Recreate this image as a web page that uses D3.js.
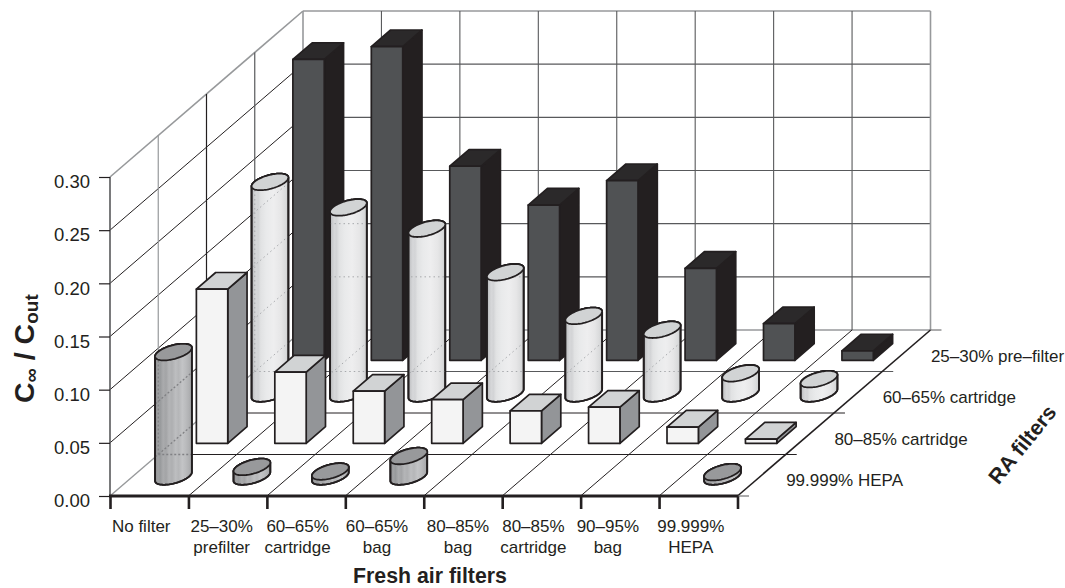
<!DOCTYPE html>
<html>
<head>
<meta charset="utf-8">
<script src="https://cdn.jsdelivr.net/npm/d3@7"></script>
<style>
  html, body { margin: 0; background: #fff; }
  svg { display: block; font-family: "Liberation Sans", Arial, sans-serif; fill: #231f20; }
</style>
</head>
<body>
<svg id="chart" width="1065" height="588"></svg>
<script>
// Fresh-air filter categories along the front axis
const freshAirLines = [
  ["No filter"], ["25–30%", "prefilter"], ["60–65%", "cartridge"], ["60–65%", "bag"],
  ["80–85%", "bag"], ["80–85%", "cartridge"], ["90–95%", "bag"], ["99.999%", "HEPA"]
];
// Return-air filter rows, nearest first
const raFilters = ["99.999% HEPA", "80–85% cartridge", "60–65% cartridge", "25–30% pre–filter"];
const raShapes = ["cylinder", "box", "cylinder", "box"];

// C∞ / Cout per row, one value per fresh-air filter
const hepaValues = [0.117, 0.009, 0.0047, 0.0193, null, null, null, 0.0041];
const cartridge80Values = [0.145, 0.067, 0.049, 0.041, 0.0304, 0.034, 0.0153, 0.004];
const cartridge60Values = [0.199, 0.175, 0.155, 0.114, 0.073, 0.06, 0.019, 0.0135];
const preFilterValues = [0.283, 0.295, 0.1825, 0.146, 0.169, 0.0865, 0.0344, 0.0089];
const yTicks = [0, 0.05, 0.10, 0.15, 0.20, 0.25, 0.30];

const rowValues = [hepaValues, cartridge80Values, cartridge60Values, preFilterValues];

// Oblique projection: depth shifts a point right and up by a fixed vector
const originX = 110, originY = 496, depthX = 193, depthY = 166;
const xScale = d3.scaleLinear().domain([0, 8]).range([originX, 737.5]);
const depthScale = d3.scaleLinear().domain([0, 4]).range([0, 1]);
const yScale = d3.scaleLinear().domain([0, 0.3]).range([originY, originY - 319]);

// col, row are grid units; v is the plotted value
function project(col, row, v = 0) {
  const d = depthScale(row);
  return [xScale(col) + depthX * d, yScale(v) - depthY * d];
}

const svg = d3.select("#chart");
const line = d3.line();
const defs = svg.append("defs");

function addGradient(id, stops) {
  const g = defs.append("linearGradient").attr("id", id)
    .attr("x1", 0).attr("x2", 1).attr("y1", 0).attr("y2", 0);
  stops.forEach(([o, c]) => g.append("stop").attr("offset", o).attr("stop-color", c));
}
addGradient("cylLight", [[0, "#b0b1b3"], [0.06, "#c9cacc"], [0.12, "#d6d7d9"], [0.18, "#d3d4d6"],
  [0.25, "#e1e2e3"], [0.4, "#e9eaeb"], [0.6, "#eeeeef"], [0.8, "#e6e6e7"], [0.92, "#dadbdc"], [1, "#cbcccd"]]);
addGradient("cylGrey", [[0, "#8f9092"], [0.08, "#a0a1a3"], [0.14, "#989a9c"], [0.22, "#aaabad"],
  [0.3, "#a3a4a6"], [0.38, "#b4b5b7"], [0.46, "#aeafb1"], [0.56, "#bdbec0"], [0.64, "#b5b6b8"],
  [0.74, "#c3c4c6"], [0.84, "#babbbd"], [0.92, "#b0b1b3"], [1, "#a2a3a5"]]);

const rowStyle = [
  { body: "url(#cylGrey)", top: "#98999b", printThrough: { color: "#808184", dash: "2 2", width: 1.3 } },
  { front: "#f4f4f4", top: "#d1d3d4", side: "#939598" },
  { body: "url(#cylLight)", top: "#d1d3d4", printThrough: { color: "#a7a9ac", dash: "1.5 3", width: 1 } },
  { front: "#505254", top: "#2b292a", side: "#231f20" }
];

/* ---------- walls and floor ---------- */
const grid = svg.append("g").attr("fill", "none");
const gridSegments = [];
function seg(a, b, stroke, width) { gridSegments.push({ a, b, stroke, width }); }

const BLACK = "#231f20", GREY = "#97999b", MID = "#58595b";

yTicks.forEach(t => {
  const isTop = t === 0.3, isFloor = t === 0;
  if (!isFloor) {
    seg(project(0, 0, t), project(0, 4, t), isTop ? GREY : BLACK, isTop ? 1.6 : 1);
    seg(project(0, 4, t), project(8, 4, t), isTop ? GREY : MID, isTop ? 1.6 : 1.2);
  }
});
seg(project(0, 4, 0), project(8, 4, 0), GREY, 1.6);
seg(project(0, 0, 0), project(0, 4, 0), GREY, 1.4);
seg(project(0, 0, 0), project(0, 0, 0.3), MID, 1.6);
seg(project(0, 4, 0), project(0, 4, 0.3), GREY, 1.6);
d3.range(1, 4).forEach(r => {
  seg(project(0, r, 0), project(0, r, 0.3), r === 3 ? MID : (r === 2 ? BLACK : GREY), 1.2);
  seg(project(0, r, 0), project(8.14, r, 0), r === 3 ? MID : BLACK, 1);
});
d3.range(1, 9).forEach(c => {
  seg(project(c, 4, 0), project(c, 4, 0.3), c === 8 ? GREY : MID, c === 8 ? 1.6 : 1.1);
  if (c < 8) seg(project(c, 0, 0), project(c, 4, 0), BLACK, 1);
});
seg(project(8, 0, 0), project(8, 4, 0), BLACK, 1.6);
seg(project(8, 4, 0), project(8.14, 4, 0), MID, 1);

grid.selectAll("line").data(gridSegments).join("line")
  .attr("x1", d => d.a[0]).attr("y1", d => d.a[1])
  .attr("x2", d => d.b[0]).attr("y2", d => d.b[1])
  .attr("stroke", d => d.stroke).attr("stroke-width", d => d.width);

/* ---------- bars ---------- */
const marks = svg.append("g");
const SIZE = 0.2;         // half footprint, in grid units
const CELL_COL = 0.52;    // footprint centre within a cell
const CELL_ROW = 0.47;

function drawBox(col, row, v, style) {
  const c0 = col + CELL_COL - SIZE, c1 = col + CELL_COL + SIZE, r0 = row + CELL_ROW - SIZE, r1 = row + CELL_ROW + SIZE;
  const g = marks.append("g").attr("stroke", BLACK).attr("stroke-width", 1.7).attr("stroke-linejoin", "round");
  const face = (pts, fill) => g.append("path").attr("d", line(pts) + "Z").attr("fill", fill);
  face([project(c1, r0, 0), project(c1, r1, 0), project(c1, r1, v), project(c1, r0, v)], style.side);
  face([project(c0, r0, v), project(c1, r0, v), project(c1, r1, v), project(c0, r1, v)], style.top);
  face([project(c0, r0, 0), project(c1, r0, 0), project(c1, r0, v), project(c0, r0, v)], style.front);
}

let clipCount = 0;
function drawCylinder(col, row, v, style) {
  const cx = col + CELL_COL, cr = row + CELL_ROW;
  const at = (t, val) => project(cx + SIZE * Math.cos(t), cr + SIZE * Math.sin(t), val);
  // Parameter of the silhouette tangent on the right-hand side of the ellipse
  const rx = xScale(SIZE) - xScale(0), rdx = depthX * depthScale(SIZE);
  const t0 = Math.atan2(rdx, rx);
  const steps = d3.range(0, 1.0001, 1 / 40);
  const frontArc = val => steps.map(s => at(t0 - s * Math.PI, val));
  const backArc = val => steps.map(s => at(t0 - Math.PI - s * Math.PI, val));
  const g = marks.append("g").attr("stroke", BLACK).attr("stroke-width", 1.8).attr("stroke-linejoin", "round");
  const bodyPath = line([...frontArc(0), ...backArc(v)]) + "Z";
  g.append("path").attr("d", bodyPath).attr("fill", style.body);

  // Grid lines faintly print through the cylinders as dots
  const id = "cyl-clip-" + (clipCount++);
  defs.append("clipPath").attr("id", id).append("path").attr("d", bodyPath);
  g.append("g").attr("clip-path", `url(#${id})`)
    .selectAll("line").data(gridSegments.filter(s => s.width <= 1.4)).join("line")
    .attr("x1", d => d.a[0]).attr("y1", d => d.a[1])
    .attr("x2", d => d.b[0]).attr("y2", d => d.b[1])
    .attr("stroke", style.printThrough.color)
    .attr("stroke-width", style.printThrough.width)
    .attr("stroke-dasharray", style.printThrough.dash);

  g.append("path").attr("d", bodyPath).attr("fill", "none");
  g.append("path").attr("d", line(d3.range(0, 81).map(i => at(i / 40 * Math.PI, v))) + "Z").attr("fill", style.top);
}

// Paint from the back row forward so nearer bars overlap farther ones
[3, 2, 1, 0].forEach(row => {
  rowValues[row].forEach((v, col) => {
    if (v === null) return;
    (raShapes[row] === "box" ? drawBox : drawCylinder)(col, row, v, rowStyle[row]);
  });
});

/* ---------- axes ---------- */
const yAxis = svg.append("g").attr("transform", `translate(${originX},0)`)
  .call(d3.axisLeft(yScale).tickValues(yTicks).tickFormat(d3.format(".2f")).tickSize(11).tickPadding(9));
yAxis.select(".domain").remove();
yAxis.selectAll("line").attr("stroke", BLACK).attr("stroke-width", 1.2);
yAxis.selectAll("text").attr("font-size", 18.5).attr("fill", BLACK).attr("font-family", "Liberation Sans").attr("dy", "0.58em");

const xAxis = svg.append("g").attr("transform", `translate(0,${originY})`)
  .call(d3.axisBottom(xScale).tickValues(d3.range(0, 9)).tickFormat("").tickSize(13));
xAxis.select(".domain").attr("stroke", BLACK).attr("stroke-width", 3.2).attr("d", `M${originX - 1},0H738`);
xAxis.selectAll("line").attr("stroke", BLACK).attr("stroke-width", 2.6);
svg.append("line").attr("x1", 738).attr("x2", 749).attr("y1", originY).attr("y2", originY)
  .attr("stroke", MID).attr("stroke-width", 1);

// Category captions sit slightly left of the cell centres, set by hand
const captionNudge = [-8, -6, -8.5, -7.5, -5, -8, -12, -7.5];
const captions = svg.append("g").attr("font-size", 17).attr("text-anchor", "middle").attr("fill", BLACK);
freshAirLines.forEach((lines, i) => {
  const t = captions.append("text").attr("x", xScale(i + 0.5) + captionNudge[i]).attr("y", 532);
  lines.forEach((s, k) => t.append("tspan").attr("x", xScale(i + 0.5) + captionNudge[i]).attr("dy", k ? 21 : 0).text(s));
});

// Row captions follow the right edge of the floor
const rowCaptions = svg.append("g").attr("font-size", 17).attr("fill", BLACK);
raFilters.forEach((name, row) => {
  const [x, y] = project(8, row + 0.5, 0);
  rowCaptions.append("text").attr("x", x + 24.5).attr("y", y + 11).text(name);
});

svg.append("text").attr("x", 430).attr("y", 583.4).attr("text-anchor", "middle")
  .attr("font-size", 21.3).attr("font-weight", "bold").attr("fill", BLACK).text("Fresh air filters");

svg.append("text").attr("transform", "translate(1028,449) rotate(-51)").attr("text-anchor", "middle")
  .attr("font-size", 21.3).attr("font-weight", "bold").attr("fill", BLACK).text("RA filters");

const yTitle = svg.append("text").attr("transform", "translate(33.5,403) rotate(-90)")
  .attr("font-size", 28.5).attr("font-weight", "bold").attr("fill", BLACK);
yTitle.append("tspan").text("C");
yTitle.append("tspan").attr("font-size", 20).attr("dy", 4).text("∞");
yTitle.append("tspan").attr("dy", -4).text(" / C");
yTitle.append("tspan").attr("font-size", 19).attr("dy", 4).text("out");
</script>
</body>
</html>
